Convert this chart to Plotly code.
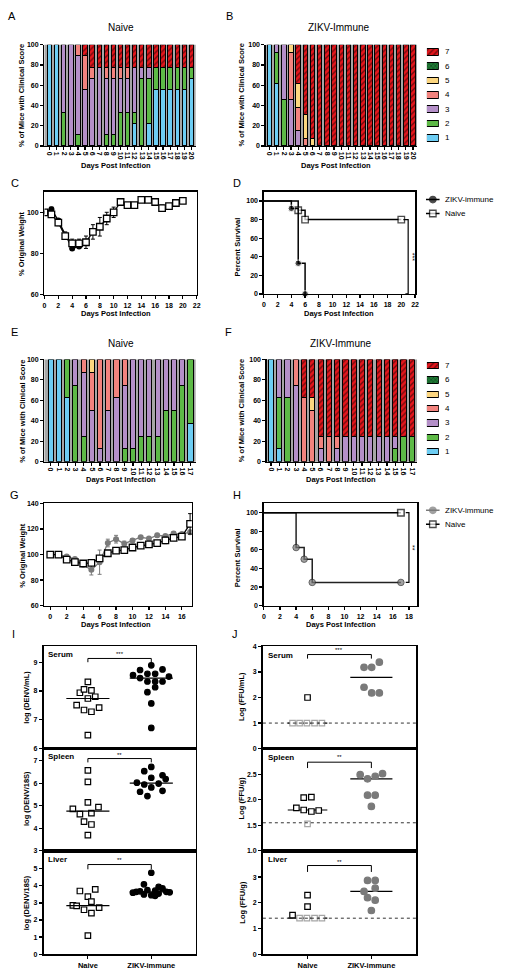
import numpy as np
import plotly.graph_objects as go

W, H = 506, 977
FONT = "Liberation Sans, Arial, Helvetica, sans-serif"

# ======================= DATA =======================
days_exp1 = list(range(21))
days_exp2 = list(range(18))
scores = [1, 2, 3, 4, 5, 6, 7]
score_labels = ["1", "2", "3", "4", "5", "6", "7"]

# Panel A: Naive, clinical score counts per day (n = 9)
naive1_n = 9
naive1_s1 = [9, 9, 0, 0, 0, 0, 0, 0, 0, 0, 0, 0, 2, 0, 2, 5, 5, 5, 5, 5, 6]
naive1_s2 = [0, 0, 3, 0, 1, 0, 0, 0, 1, 1, 3, 3, 1, 6, 4, 2, 2, 2, 2, 2, 1]
naive1_s3 = [0, 0, 6, 9, 7, 5, 6, 7, 5, 5, 3, 3, 4, 1, 1, 0, 0, 0, 0, 0, 0]
naive1_s4 = [0, 0, 0, 0, 1, 3, 1, 0, 1, 1, 1, 1, 0, 0, 0, 0, 0, 0, 0, 0, 0]
naive1_s5 = [0] * 21
naive1_s6 = [0] * 21
naive1_s7 = [0, 0, 0, 0, 0, 1, 2, 2, 2, 2, 2, 2, 2, 2, 2, 2, 2, 2, 2, 2, 2]

# Panel B: ZIKV-immune (n = 13)
zikv1_n = 13
zikv1_s1 = [13, 8, 0, 0, 0, 0, 0, 0, 0, 0, 0, 0, 0, 0, 0, 0, 0, 0, 0, 0, 0]
zikv1_s2 = [0, 4, 6, 0, 0, 0, 0, 0, 0, 0, 0, 0, 0, 0, 0, 0, 0, 0, 0, 0, 0]
zikv1_s3 = [0, 1, 7, 6, 2, 0, 0, 0, 0, 0, 0, 0, 0, 0, 0, 0, 0, 0, 0, 0, 0]
zikv1_s4 = [0, 0, 0, 6, 3, 1, 0, 0, 0, 0, 0, 0, 0, 0, 0, 0, 0, 0, 0, 0, 0]
zikv1_s5 = [0, 0, 0, 1, 3, 3, 1, 0, 0, 0, 0, 0, 0, 0, 0, 0, 0, 0, 0, 0, 0]
zikv1_s6 = [0] * 21
zikv1_s7 = [0, 0, 0, 0, 5, 9, 12, 13, 13, 13, 13, 13, 13, 13, 13, 13, 13, 13, 13, 13, 13]

# Panel E: Naive (n = 8)
naive2_n = 8
naive2_s1 = [8, 8, 5, 0, 0, 0, 0, 0, 0, 0, 0, 0, 0, 0, 0, 0, 0, 3]
naive2_s2 = [0, 0, 3, 6, 2, 0, 0, 0, 0, 1, 1, 2, 2, 2, 4, 4, 6, 5]
naive2_s3 = [0, 0, 0, 2, 5, 4, 1, 4, 5, 5, 7, 6, 6, 6, 4, 4, 2, 0]
naive2_s4 = [0, 0, 0, 0, 1, 3, 7, 4, 3, 2, 0, 0, 0, 0, 0, 0, 0, 0]
naive2_s5 = [0, 0, 0, 0, 0, 1, 0, 0, 0, 0, 0, 0, 0, 0, 0, 0, 0, 0]
naive2_s6 = [0] * 18
naive2_s7 = [0] * 18

# Panel F: ZIKV-immune (n = 8)
zikv2_n = 8
zikv2_s1 = [8, 1, 0, 0, 0, 0, 0, 0, 0, 0, 0, 0, 0, 0, 0, 0, 0, 0]
zikv2_s2 = [0, 4, 5, 0, 0, 0, 0, 0, 0, 0, 0, 0, 0, 0, 0, 1, 2, 2]
zikv2_s3 = [0, 3, 3, 6, 0, 0, 1, 0, 1, 2, 2, 2, 2, 2, 2, 1, 0, 0]
zikv2_s4 = [0, 0, 0, 2, 5, 4, 1, 2, 1, 0, 0, 0, 0, 0, 0, 0, 0, 0]
zikv2_s5 = [0, 0, 0, 0, 0, 1, 0, 0, 0, 0, 0, 0, 0, 0, 0, 0, 0, 0]
zikv2_s6 = [0] * 18
zikv2_s7 = [0, 0, 0, 0, 3, 3, 6, 6, 6, 6, 6, 6, 6, 6, 6, 6, 6, 6]

# Panel C: weight
weightC_naive = [100, 99, 95, 88.5, 85, 85, 85.5, 90.5, 93, 97, 100, 105, 103.5, 103.5,
                 106, 106, 105, 102, 103, 104.5, 105.5]
weightC_naive_err = [0.5, 1, 1.5, 1.5, 2, 2, 3, 3.5, 4.5, 3, 2.5, 1, 1, 1, 1, 1, 1, 1.5, 1, 1, 1]
weightC_zikv_days = [0, 1, 2, 3, 4, 5]
weightC_zikv = [100, 101.5, 96, 89, 82.5, 83.5]
weightC_zikv_err = [0.5, 1, 1, 1.5, 1, 1]

# Panel D: survival
survD_zikv_t = [0, 4, 5, 6]
survD_zikv = [100, 92, 33, 0]
survD_naive_t = [0, 5, 6, 20]
survD_naive = [100, 90, 80, 80]

# Panel G: weight
weightG_naive = [100, 100, 96, 94, 93, 93.5, 97, 101, 103, 103.5, 105.5, 107, 108, 109,
                 111, 113, 114, 124]
weightG_naive_err = [0.5, 0.5, 1, 1, 1, 1.5, 2, 1.5, 1, 1.5, 1.5, 1, 2, 2, 2.5, 2, 2, 8]
weightG_zikv = [100, 100, 98.5, 96.5, 92, 88, 94, 109, 112, 108.5, 111, 113.5, 112.5, 115,
                114.5, 116.5, 116, 117.5]
weightG_zikv_err = [0.5, 0.5, 1, 1, 1, 4, 9.5, 3, 3, 2, 1.5, 1, 1, 1.5, 1, 1.5, 1, 1.5]

# Panel H: survival
survH_zikv_t = [0, 4, 5, 6, 17]
survH_zikv = [100, 62.5, 50, 25, 25]
survH_naive_t = [0, 17]
survH_naive = [100, 100]

# Panel I: qRT-PCR (log DENV)
groups = ["Naive", "ZIKV-immune"]
I_serum_naive = [8.32, 7.94, 8.06, 8.02, 7.74, 7.80, 7.51, 7.34, 7.28, 7.42, 6.47]
I_serum_naive_jit = [0, -0.126, -0.061, 0.056, 0, 0.116, -0.177, -0.061, 0.056, 0.177, 0]
I_serum_zikv = [8.89, 8.73, 8.75, 8.60, 8.60, 8.55, 8.50, 8.45, 8.33, 8.33, 8.33, 8.13, 7.96, 7.57, 6.72]
I_serum_zikv_jit = [0, -0.177, 0.177, -0.061, 0.061, -0.288, 0.278, -0.177, -0.061, 0.061, 0.177,
                    0.061, -0.061, 0, 0]
I_spleen_naive = [6.57, 6.06, 5.15, 4.86, 4.94, 4.63, 4.67, 4.30, 4.17, 3.70]
I_spleen_naive_jit = [0, 0, 0, -0.237, 0.167, -0.126, 0.056, -0.061, 0.056, 0]
I_spleen_zikv = [6.53, 6.72, 6.24, 6.35, 6.18, 6.02, 5.94, 5.98, 5.81, 5.62, 5.66, 5.43]
I_spleen_zikv_jit = [-0.111, 0, 0, 0.177, 0.227, -0.227, -0.111, 0.116, 0, -0.177, 0.177, -0.061]
I_liver_naive = [3.70, 3.80, 3.37, 3.08, 2.86, 2.83, 2.60, 2.40, 2.73, 1.09]
I_liver_naive_jit = [-0.126, 0.116, 0, 0.056, -0.237, -0.177, -0.061, 0.056, 0.177, 0]
I_liver_zikv = [4.77, 4.09, 3.94, 3.85, 3.75, 3.72, 3.68, 3.65, 3.65, 3.62, 3.60, 3.55, 3.50, 3.45, 3.42]
I_liver_zikv_jit = [0, -0.116, 0.116, 0.177, -0.061, 0.061, -0.177, 0.237, -0.237, 0.29, -0.29,
                    0.116, -0.116, 0, 0.061]

# Panel J: infectious virus (log FFU); *_lod = at limit of detection
J_serum_naive = [2.0]
J_serum_naive_jit = [0]
J_serum_naive_lod = [1.0, 1.0, 1.0, 1.0, 1.0]
J_serum_naive_lod_jit = [-0.235, -0.125, -0.01, 0.11, 0.225]
J_serum_zikv = [3.18, 3.18, 3.38, 2.40, 2.18, 2.18]
J_serum_zikv_jit = [-0.115, 0.005, 0.125, -0.115, 0.005, 0.125]
J_spleen_naive = [2.04, 2.05, 1.84, 1.80, 1.77, 1.79]
J_spleen_naive_jit = [-0.06, 0.06, -0.175, -0.06, 0.06, 0.175]
J_spleen_naive_lod = [1.53]
J_spleen_naive_lod_jit = [0]
J_spleen_zikv = [2.49, 2.41, 2.46, 2.51, 2.09, 2.09, 1.87]
J_spleen_zikv_jit = [-0.175, -0.06, 0.06, 0.175, -0.06, 0.06, 0]
J_liver_naive = [2.30, 1.85, 1.52]
J_liver_naive_jit = [0, 0, -0.235]
J_liver_naive_lod = [1.4, 1.4, 1.4, 1.4]
J_liver_naive_lod_jit = [-0.125, -0.01, 0.11, 0.225]
J_liver_zikv = [2.87, 2.87, 2.57, 2.44, 2.20, 2.10, 1.70]
J_liver_zikv_jit = [-0.06, 0.06, 0.06, -0.115, -0.06, 0.06, 0]
J_lod = [1.0, 1.55, 1.4]

# ======================= STYLE =======================
score_colors = ["#6DCDF3", "#5DB946", "#B48FC8", "#F2837E", "#FCD67F", "#1F7A35", "#E3161C"]
score_patterns = [dict(shape=""), dict(shape=""), dict(shape=""), dict(shape=""), dict(shape=""),
                  dict(shape="x", fgcolor="black", bgcolor="#1F7A35", size=3, solidity=0.3),
                  dict(shape="/", fgcolor="black", bgcolor="#E3161C", size=4, solidity=0.35)]
GRAYPT = "#7A7A7A"

fig = go.Figure()
layout = {}
annotations = []
shapes = []


def ref(i):
    return "" if i == 1 else str(i)


def P(xpx, ypx):
    return xpx / W, 1 - ypx / H


def base_axis(**kw):
    d = dict(showline=True, linecolor="black", linewidth=1.5, ticks="outside", ticklen=3,
             tickwidth=1.2, tickcolor="black", showgrid=False, zeroline=False, fixedrange=True,
             tickfont=dict(family=FONT, size=7, color="black", weight="bold"))
    d.update(kw)
    return d


def set_axes(i, xpx, ypx, xopts, yopts):
    layout["xaxis" + ref(i)] = dict(domain=[xpx[0] / W, xpx[1] / W], anchor="y" + ref(i), **xopts)
    layout["yaxis" + ref(i)] = dict(domain=[1 - ypx[1] / H, 1 - ypx[0] / H], anchor="x" + ref(i), **yopts)


def text(t, xpx, ypx, size, bold=False, angle=0, xanchor="center"):
    x, y = P(xpx, ypx)
    annotations.append(dict(text=("<b>%s</b>" % t) if bold else t, x=x, y=y, xref="paper",
                            yref="paper", showarrow=False, xanchor=xanchor, yanchor="middle",
                            textangle=angle, font=dict(family=FONT, size=size, color="black")))


def add_stack(i, days, count_lists, n):
    for k, counts in enumerate(count_lists):
        pct = [100.0 * c / n if c else None for c in counts]
        fig.add_trace(go.Bar(x=days, y=pct, xaxis="x" + ref(i), yaxis="y" + ref(i), width=0.62,
                             marker=dict(color=score_colors[k], line=dict(color="black", width=1),
                                         pattern=score_patterns[k]),
                             showlegend=False, hoverinfo="skip"))
    shapes.append(dict(type="rect", xref="x%s domain" % ref(i), yref="y%s domain" % ref(i),
                       x0=0, x1=1, y0=0, y1=1, fillcolor="#A6A6A6", line_width=0, layer="below"))


def add_bar_legend(i, xpx, ypx):
    for k, s in enumerate(scores):
        fig.add_trace(go.Bar(y=[s], x=[1], orientation="h", xaxis="x" + ref(i), yaxis="y" + ref(i),
                             width=0.45,
                             marker=dict(color=score_colors[k], line=dict(color="black", width=1),
                                         pattern=score_patterns[k]),
                             showlegend=False, hoverinfo="skip"))
        annotations.append(dict(text=score_labels[k], x=446 / W, y=s, xref="paper", yref="y" + ref(i),
                                showarrow=False, xanchor="left", yanchor="middle",
                                font=dict(family=FONT, size=8, color="black")))
    set_axes(i, xpx, ypx, dict(visible=False, range=[0, 1], fixedrange=True),
             dict(visible=False, range=[0.5, 7.5], fixedrange=True))


def bar_axes(i, xpx, ypx, ndays, xr):
    set_axes(i, xpx, ypx,
             base_axis(range=xr, tickmode="array", tickvals=list(range(ndays)),
                       ticktext=[str(d) for d in range(ndays)], tickangle=90),
             base_axis(range=[0, 100], tickvals=[0, 20, 40, 60, 80, 100]))


# ---------------- A / B ----------------
add_stack(1, days_exp1, [naive1_s1, naive1_s2, naive1_s3, naive1_s4, naive1_s5, naive1_s6, naive1_s7], naive1_n)
bar_axes(1, (43, 196), (41, 143), 21, [-0.72, 20.6])
add_stack(2, days_exp1, [zikv1_s1, zikv1_s2, zikv1_s3, zikv1_s4, zikv1_s5, zikv1_s6, zikv1_s7], zikv1_n)
bar_axes(2, (267, 420), (41, 143), 21, [-0.5, 20.55])
add_bar_legend(3, (430, 442), (41, 142))

# ---------------- C ----------------
fig.add_trace(go.Scatter(x=weightC_zikv_days, y=weightC_zikv, xaxis="x4", yaxis="y4", mode="lines+markers",
                         line=dict(color="black", width=1.3),
                         marker=dict(symbol="circle", color="black", size=6),
                         error_y=dict(type="data", array=weightC_zikv_err, color="black", thickness=1, width=2),
                         showlegend=False, hoverinfo="skip"))
fig.add_trace(go.Scatter(x=days_exp1, y=weightC_naive, xaxis="x4", yaxis="y4", mode="lines+markers",
                         line=dict(color="black", width=1.3),
                         marker=dict(symbol="square", color="white", size=6.5, line=dict(color="black", width=1.3)),
                         error_y=dict(type="data", array=weightC_naive_err, color="black", thickness=1, width=2),
                         showlegend=False, hoverinfo="skip"))
set_axes(4, (43, 197), (189, 293),
         base_axis(range=[0, 22], tickvals=list(range(0, 23, 2)), mirror=True),
         base_axis(range=[60, 110], tickvals=[60, 80, 100], mirror=True))


# ---------------- D ----------------
def marker_sizes(n, s):
    return [0] + [s] * (n - 1)


fig.add_trace(go.Scatter(x=survD_naive_t, y=survD_naive, xaxis="x5", yaxis="y5", mode="lines+markers",
                         line=dict(color="black", width=1.5, shape="hv"),
                         marker=dict(symbol="square", color="white", size=marker_sizes(len(survD_naive), 6.5),
                                     line=dict(color="black", width=1.3)),
                         showlegend=False, hoverinfo="skip"))
fig.add_trace(go.Scatter(x=survD_zikv_t, y=survD_zikv, xaxis="x5", yaxis="y5", mode="lines+markers",
                         line=dict(color="black", width=1.5, shape="hv"),
                         marker=dict(symbol="circle", color="black", size=marker_sizes(len(survD_zikv), 6.5)),
                         showlegend=False, hoverinfo="skip", cliponaxis=False))
set_axes(5, (265, 418), (189, 292),
         base_axis(range=[0, 22], tickvals=list(range(0, 23, 2)), mirror=True),
         base_axis(range=[0, 110], tickvals=[0, 20, 40, 60, 80, 100], mirror=True))
shapes.append(dict(type="path", xref="x5", yref="y5", path="M 20.3,80 L 21,80 L 21,0 L 20.6,0",
                   line=dict(color="black", width=1.2)))
annotations.append(dict(text="***", x=21.55, y=40, xref="x5", yref="y5", showarrow=False, textangle=90,
                        font=dict(family=FONT, size=7, color="black")))


def line_legend(i, xpx, ypx, entries):
    for k, (label, sym, fill, lcol) in enumerate(entries):
        yv = len(entries) - k
        fig.add_trace(go.Scatter(x=[0, 0.5, 1], y=[yv, yv, yv], xaxis="x" + ref(i), yaxis="y" + ref(i),
                                 mode="lines+markers", line=dict(color=lcol, width=1.5),
                                 marker=dict(symbol=sym, color=fill, size=[0, 6.5, 0],
                                             line=dict(color=lcol if fill == "white" else fill, width=1.3)),
                                 showlegend=False, hoverinfo="skip", cliponaxis=False))
        annotations.append(dict(text=label, x=446 / W, y=yv, xref="paper", yref="y" + ref(i),
                                showarrow=False, xanchor="left", yanchor="middle",
                                font=dict(family=FONT, size=8, color="black")))
    set_axes(i, xpx, ypx, dict(visible=False, range=[0, 1], fixedrange=True),
             dict(visible=False, range=[0.5, 2.5], fixedrange=True))


line_legend(6, (429, 443), (190, 218), [("ZIKV-immune", "circle", "black", "black"),
                                        ("Naive", "square", "white", "black")])

# ---------------- E / F ----------------
add_stack(7, days_exp2, [naive2_s1, naive2_s2, naive2_s3, naive2_s4, naive2_s5, naive2_s6, naive2_s7], naive2_n)
bar_axes(7, (43, 196), (358, 461), 18, [-0.75, 17.63])
add_stack(8, days_exp2, [zikv2_s1, zikv2_s2, zikv2_s3, zikv2_s4, zikv2_s5, zikv2_s6, zikv2_s7], zikv2_n)
bar_axes(8, (268, 420), (358, 461), 18, [-0.5, 17.63])
add_bar_legend(9, (430, 442), (357, 458))

# ---------------- G ----------------
fig.add_trace(go.Scatter(x=days_exp2, y=weightG_zikv, xaxis="x10", yaxis="y10", mode="lines+markers",
                         line=dict(color=GRAYPT, width=1.3),
                         marker=dict(symbol="circle", color=GRAYPT, size=6),
                         error_y=dict(type="data", array=weightG_zikv_err, color=GRAYPT, thickness=1, width=2),
                         showlegend=False, hoverinfo="skip"))
fig.add_trace(go.Scatter(x=days_exp2, y=weightG_naive, xaxis="x10", yaxis="y10", mode="lines+markers",
                         line=dict(color="black", width=1.3),
                         marker=dict(symbol="square", color="white", size=6.5, line=dict(color="black", width=1.3)),
                         error_y=dict(type="data", array=weightG_naive_err, color="black", thickness=1, width=2),
                         showlegend=False, hoverinfo="skip"))
set_axes(10, (43, 192), (503, 606),
         base_axis(range=[-0.7, 17.2], tickvals=list(range(0, 17, 2)), mirror=True),
         base_axis(range=[60, 140], tickvals=[60, 80, 100, 120, 140], mirror=True))

# ---------------- H ----------------
fig.add_trace(go.Scatter(x=survH_zikv_t, y=survH_zikv, xaxis="x11", yaxis="y11", mode="lines+markers",
                         line=dict(color="#222222", width=1.5, shape="hv"),
                         marker=dict(symbol="circle", color=GRAYPT, size=marker_sizes(len(survH_zikv), 6.5)),
                         showlegend=False, hoverinfo="skip"))
fig.add_trace(go.Scatter(x=survH_naive_t, y=survH_naive, xaxis="x11", yaxis="y11", mode="lines+markers",
                         line=dict(color="black", width=1.5, shape="hv"),
                         marker=dict(symbol="square", color="white", size=marker_sizes(len(survH_naive), 6.5),
                                     line=dict(color="black", width=1.5)),
                         showlegend=False, hoverinfo="skip", cliponaxis=False))
set_axes(11, (265, 420), (503, 606),
         base_axis(range=[0, 19], tickvals=list(range(0, 19, 2)), mirror=True),
         base_axis(range=[0, 110], tickvals=[0, 20, 40, 60, 80, 100], mirror=True))
shapes.append(dict(type="path", xref="x11", yref="y11", path="M 17.6,100 L 18,100 L 18,25 L 17.6,25",
                   line=dict(color="black", width=1.2)))
annotations.append(dict(text="**", x=18.5, y=62, xref="x11", yref="y11", showarrow=False, textangle=90,
                        font=dict(family=FONT, size=7, color="black")))
line_legend(12, (429, 443), (503, 531), [("ZIKV-immune", "circle", GRAYPT, GRAYPT),
                                         ("Naive", "square", "white", "black")])


# ---------------- I / J ----------------
def dot_column(i, center, vals, jit, sym, fill, lcol, size=5.5):
    fig.add_trace(go.Scatter(x=[center + j for j in jit], y=vals, xaxis="x" + ref(i), yaxis="y" + ref(i),
                             mode="markers",
                             marker=dict(symbol=sym, color=fill, size=size, line=dict(color=lcol, width=1.2)),
                             showlegend=False, hoverinfo="skip"))


def median_line(i, center, vals, half):
    m = float(np.median(vals))
    fig.add_trace(go.Scatter(x=[center - half, center + half], y=[m, m], xaxis="x" + ref(i), yaxis="y" + ref(i),
                             mode="lines", line=dict(color="black", width=1.2),
                             showlegend=False, hoverinfo="skip"))


def bracket(i, y0, y1, ystar, stars):
    shapes.append(dict(type="path", xref="x" + ref(i), yref="y" + ref(i),
                       path="M 0,%g L 0,%g L 1,%g L 1,%g" % (y0, y1, y1, y0),
                       line=dict(color="black", width=1)))
    annotations.append(dict(text=stars, x=0.5, y=ystar, xref="x" + ref(i), yref="y" + ref(i),
                            showarrow=False, font=dict(family=FONT, size=6, color="black")))


def dot_axes(i, xpx, ypx, yr, tickvals, ticktext, bottom):
    xo = base_axis(range=[-0.7, 1.7], mirror=True, linewidth=1.8)
    if bottom:
        xo.update(tickvals=[0, 1], ticktext=["<b>%s</b>" % g for g in groups],
                  tickfont=dict(family=FONT, size=7.5, color="black"))
    else:
        xo.update(ticks="", showticklabels=False)
    yo = base_axis(range=yr, tickvals=tickvals, ticktext=ticktext, mirror=True, linewidth=1.8)
    set_axes(i, xpx, ypx, xo, yo)


# I serum
dot_column(13, 0, I_serum_naive, I_serum_naive_jit, "square", "white", "black")
dot_column(13, 1, I_serum_zikv, I_serum_zikv_jit, "circle", "black", "black")
median_line(13, 0, I_serum_naive, 0.34)
median_line(13, 1, I_serum_zikv, 0.34)
dot_axes(13, (42, 196), (647, 750), [6, 9.55], [6, 7, 8, 9], ["6", "7", "8", "9"], False)
bracket(13, 9.0, 9.13, 9.3, "***")
# I spleen
dot_column(14, 0, I_spleen_naive, I_spleen_naive_jit, "square", "white", "black")
dot_column(14, 1, I_spleen_zikv, I_spleen_zikv_jit, "circle", "black", "black")
median_line(14, 0, I_spleen_naive, 0.34)
median_line(14, 1, I_spleen_zikv, 0.34)
dot_axes(14, (42, 196), (750, 853), [3, 7.53], [3, 4, 5, 6, 7], ["3", "4", "5", "6", "7"], False)
bracket(14, 6.92, 7.09, 7.24, "**")
# I liver
dot_column(15, 0, I_liver_naive, I_liver_naive_jit, "square", "white", "black")
dot_column(15, 1, I_liver_zikv, I_liver_zikv_jit, "circle", "black", "black")
median_line(15, 0, I_liver_naive, 0.34)
median_line(15, 1, I_liver_zikv, 0.34)
dot_axes(15, (42, 196), (853, 957), [0, 6.05], [0, 1, 2, 3, 4, 5], ["0", "1", "2", "3", "4", "5"], True)
bracket(15, 4.97, 5.25, 5.5, "**")

# J panels
J_sets = [
    (16, J_serum_naive, J_serum_naive_jit, J_serum_naive_lod, J_serum_naive_lod_jit, J_serum_zikv, J_serum_zikv_jit),
    (17, J_spleen_naive, J_spleen_naive_jit, J_spleen_naive_lod, J_spleen_naive_lod_jit, J_spleen_zikv, J_spleen_zikv_jit),
    (18, J_liver_naive, J_liver_naive_jit, J_liver_naive_lod, J_liver_naive_lod_jit, J_liver_zikv, J_liver_zikv_jit),
]
for k, (i, nv, nj, lv, lj, zv, zj) in enumerate(J_sets):
    shapes.append(dict(type="line", xref="x" + ref(i), yref="y" + ref(i), x0=-0.7, x1=1.7,
                       y0=J_lod[k], y1=J_lod[k], line=dict(color="#333333", width=1, dash="dot")))
    median_line(i, 0, nv + lv, 0.31)
    median_line(i, 1, zv, 0.33)
    dot_column(i, 0, lv, lj, "square", "white", "#A6A6A6")
    dot_column(i, 0, nv, nj, "square", "white", "black")
    dot_column(i, 1, zv, zj, "circle", GRAYPT, GRAYPT, size=6.5)

dot_axes(16, (264, 419), (647, 750), [0, 4], [0, 1, 2, 3, 4], ["0", "1", "2", "3", "4"], False)
bracket(16, 3.52, 3.68, 3.85, "***")
dot_axes(17, (264, 419), (750, 853), [1.0, 3.0], [1.0, 1.5, 2.0, 2.5], ["1.0", "1.5", "2.0", "2.5"], False)
bracket(17, 2.62, 2.735, 2.84, "**")
dot_axes(18, (264, 419), (853, 957), [0, 4.02], [0, 1, 2, 3], ["0", "1", "2", "3"], True)
bracket(18, 3.2, 3.45, 3.6, "**")

# ======================= TEXT =======================
for lab, x, y in [("A", 10, 12), ("B", 230, 12), ("C", 13, 180), ("D", 238, 180), ("E", 13, 330),
                  ("F", 229, 330), ("G", 13, 495), ("H", 238, 495), ("I", 12, 635), ("J", 236, 635)]:
    text(lab, x, y, 11)

text("Naive", 120, 24, 10)
text("ZIKV-Immune", 341, 24, 10)
text("Naive", 120, 342, 10)
text("ZIKV-Immune", 343, 342, 10)

for x, y in [(115, 163), (338, 163), (115, 312), (341, 312), (120, 479), (343, 479), (115, 625), (343, 625)]:
    text("Days Post Infection", x, y, 7.5, bold=True)

text("% of Mice with Clinical Score", 20, 92, 7.5, bold=True, angle=-90)
text("% of Mice with Clinical Score", 242, 92, 7.5, bold=True, angle=-90)
text("% Original Weight", 20, 241, 7.5, bold=True, angle=-90)
text("Percent Survival", 238, 245, 7.5, bold=True, angle=-90)
text("% of Mice with Clinical Score", 20, 410, 7.5, bold=True, angle=-90)
text("% of Mice with Clinical Score", 242, 410, 7.5, bold=True, angle=-90)
text("% Original Weight", 20, 555, 7.5, bold=True, angle=-90)
text("Percent Survival", 238, 558, 7.5, bold=True, angle=-90)

text("log (DENV/mL)", 25, 698, 7.5, bold=True, angle=-90)
text("log (DENV/18S)", 25, 800, 7.5, bold=True, angle=-90)
text("log (DENV/18S)", 25, 905, 7.5, bold=True, angle=-90)
text("Log (FFU/mL)", 243, 698, 7.5, bold=True, angle=-90)
text("Log (FFU/g)", 242, 800, 7.5, bold=True, angle=-90)
text("Log (FFU/g)", 243, 905, 7.5, bold=True, angle=-90)

for t, x, y in [("Serum", 45, 655), ("Spleen", 45, 758), ("Liver", 45, 862),
                ("Serum", 267, 656), ("Spleen", 267, 759), ("Liver", 267, 862)]:
    text(t, x, y, 8, bold=True, xanchor="left")

fig.update_layout(width=W, height=H, margin=dict(l=0, r=0, t=0, b=0), paper_bgcolor="white",
                  plot_bgcolor="white", showlegend=False, barmode="stack",
                  font=dict(family=FONT, color="black"),
                  annotations=annotations, shapes=shapes, **layout)

fig.write_html("out.html", config={"displayModeBar": False, "staticPlot": True},
               post_script="document.body.style.margin='0';document.body.style.padding='0';")
